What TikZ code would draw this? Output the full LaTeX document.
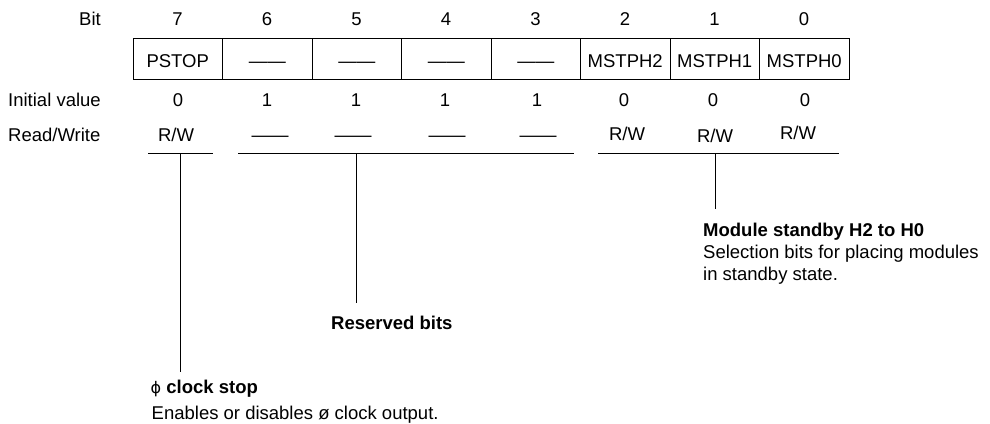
\documentclass[tikz,border=0pt]{standalone}
\usepackage{fontspec}
\setmainfont{Liberation Sans}
\newfontfamily\symfont{DejaVu Sans}
\begin{document}
\begin{tikzpicture}[x=1pt,y=-1pt,
  txt/.style={inner sep=0pt, anchor=base, font=\fontsize{18.5}{22}\selectfont},
  cell/.style={draw, line width=1pt, minimum width=89.5pt, minimum height=41pt,
    inner sep=0pt, text height=17pt, text depth=0pt, font=\fontsize{18.5}{22}\selectfont},
  brk/.style={line width=1pt}]
\useasboundingbox (0,0) rectangle (990,423);
% bit numbers
\node[txt, anchor=base east] (bitlbl) at (101,25) {Bit};
\foreach \i/\x in {7/177.5,6/267,5/356.5,4/446,3/535.5,2/625,1/714.5,0/804}
  \node[txt] (b\i) at (\x,25) {\i};
% register cells
\node[cell] (c7) at (177.75,58.5) {PSTOP};
\node[cell] (c6) at (267.25,58.5) {——};
\node[cell] (c5) at (356.75,58.5) {——};
\node[cell] (c4) at (446.25,58.5) {——};
\node[cell] (c3) at (535.75,58.5) {——};
\node[cell] (c2) at (625.25,58.5) {MSTPH2};
\node[cell] (c1) at (714.75,58.5) {MSTPH1};
\node[cell] (c0) at (804.25,58.5) {MSTPH0};
% initial values
\node[txt, anchor=base west] (ivlbl) at (8,106.7) {Initial value};
\foreach \i/\x/\v in {7/178/0,6/267/1,5/356/1,4/445/1,3/537/1,2/624/0,1/713/0,0/805/0}
  \node[txt] (iv\i) at (\x,106.7) {\v};
% read/write
\node[txt, anchor=base west] (rwlbl) at (8,141.7) {Read/Write};
\node[txt] (rw7) at (176,141.7) {R/W};
\node[txt] (rw6) at (270,141.7) {——};
\node[txt] (rw5) at (353,141.7) {——};
\node[txt] (rw4) at (447,141.7) {——};
\node[txt] (rw3) at (538,141.7) {——};
\node[txt] (rw2) at (627,140) {R/W};
\node[txt] (rw1) at (715,142.7) {R/W};
\node[txt] (rw0) at (798,139.3) {R/W};
% brackets
\coordinate (p1) at (148,153); \coordinate (p2) at (213,153); \coordinate (pm) at (180,153);
\coordinate (r1) at (238,153); \coordinate (r2) at (574,153); \coordinate (rm) at (356,153);
\coordinate (m1) at (598,153); \coordinate (m2) at (839,153); \coordinate (mm) at (715,153);
\draw[brk] (p1) -- (p2);
\draw[brk] (r1) -- (r2);
\draw[brk] (m1) -- (m2);
\coordinate (pe) at (180,372);
\coordinate (re) at (356,303);
\coordinate (me) at (715,209);
\draw[brk] (pm) -- (pe);
\draw[brk] (rm) -- (re);
\draw[brk] (mm) -- (me);
% descriptions
\node[txt, anchor=base west] (modt) at (703,236.5) {\bfseries Module standby H2 to H0};
\node[txt, anchor=base west] (mod1) at (703,258.5) {Selection bits for placing modules};
\node[txt, anchor=base west] (mod2) at (703,280) {in standby state.};
\node[txt, anchor=base west] (rest) at (331,329) {\bfseries Reserved bits};
\node[txt, anchor=base west] (clkt) at (150.5,393.5) {{\symfont\fontsize{16}{20}\selectfont ϕ} \bfseries clock stop};
\node[txt, anchor=base west] (clk1) at (151.5,419) {Enables or disables ø clock output.};
\end{tikzpicture}
\end{document}
